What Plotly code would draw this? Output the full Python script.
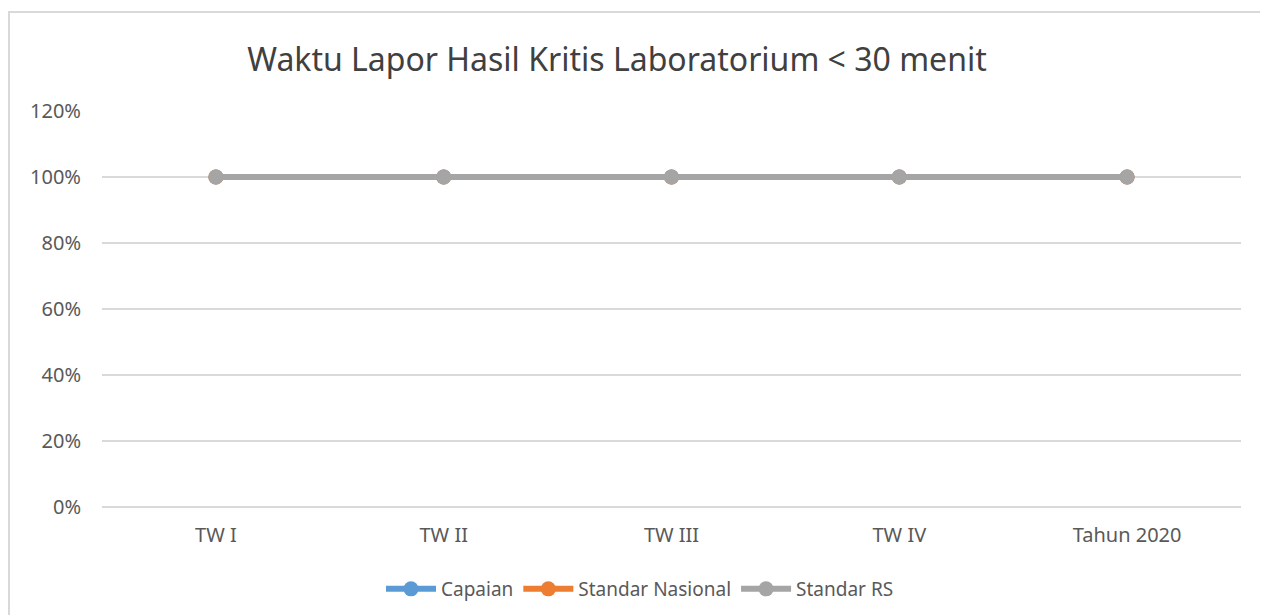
import plotly.graph_objects as go

categories = ["TW I", "TW II", "TW III", "TW IV", "Tahun 2020"]
capaian = [1.0, 1.0, 1.0, 1.0, 1.0]
standar_nasional = [1.0, 1.0, 1.0, 1.0, 1.0]
standar_rs = [1.0, 1.0, 1.0, 1.0, 1.0]

series = [
    ("Capaian", capaian, "#5B9BD5"),
    ("Standar Nasional", standar_nasional, "#ED7D31"),
    ("Standar RS", standar_rs, "#A5A5A5"),
]

# page body has an 8px margin, so the figure is 1260x607
W, H = 1260, 607

fig = go.Figure()
for name, vals, col in series:
    fig.add_trace(go.Scatter(
        x=categories, y=vals, name=name, mode="lines+markers",
        line=dict(color=col, width=6),
        marker=dict(color=col, size=15),
    ))

fig.update_layout(
    width=W, height=H,
    margin=dict(l=94, r=27, t=103, b=108),
    plot_bgcolor="white", paper_bgcolor="white",
    font=dict(family="Noto Sans", color="#595959", size=19),
    title=dict(
        text="Waktu Lapor Hasil Kritis Laboratorium < 30 menit",
        font=dict(size=32, color="#404040"),
        x=609 / W, xanchor="center", xref="container",
        y=1 - 52 / H, yanchor="middle", yref="container",
    ),
    xaxis=dict(
        type="category", range=[-0.5, 4.5],
        showgrid=False, showline=False, zeroline=False,
        ticks="", ticklabelstandoff=14,
        tickfont=dict(size=20),
    ),
    yaxis=dict(
        range=[0, 1.2], dtick=0.2, tickformat=".0%",
        showgrid=True, gridcolor="#D9D9D9", gridwidth=2,
        zeroline=True, zerolinecolor="#D9D9D9", zerolinewidth=2,
        showline=False, ticks="", ticklabelstandoff=20,
        tickfont=dict(size=20),
    ),
    legend=dict(
        orientation="h", xref="container", yref="container",
        x=632 / W, xanchor="center", y=(H - 581) / H, yanchor="middle",
        font=dict(size=19, color="#595959"),
        itemwidth=50, tracegroupgap=0,
    ),
    showlegend=True,
)

# chart frame, cut off at right and bottom like the source
pw = W - 94 - 27
ph = H - 103 - 108
fig.add_shape(
    type="rect", xref="paper", yref="paper",
    x0=(1 - 94) / pw, x1=(W + 10 - 94) / pw,
    y0=(H - 108 - (H + 10)) / ph, y1=(H - 108 - 4) / ph,
    line=dict(color="#D9D9D9", width=2), fillcolor="rgba(0,0,0,0)",
    layer="below",
)

fig.write_html("out.html")
